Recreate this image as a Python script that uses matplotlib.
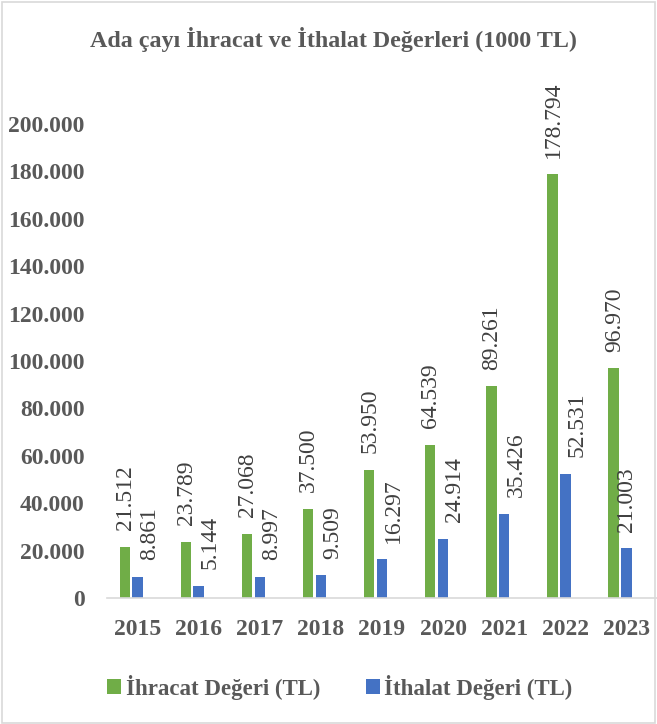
import numpy as np
import matplotlib.pyplot as plt
from matplotlib.patches import Rectangle

years = ["2015", "2016", "2017", "2018", "2019", "2020", "2021", "2022", "2023"]
ihracat = [21512, 23789, 27068, 37500, 53950, 64539, 89261, 178794, 96970]
ithalat = [8861, 5144, 8997, 9509, 16297, 24914, 35426, 52531, 21003]
yticks = [0, 20000, 40000, 60000, 80000, 100000, 120000, 140000, 160000, 180000, 200000]

GREEN = "#70AD47"
BLUE = "#4472C4"
TXT = "#595959"
LBL = "#404040"
SERIF = "Liberation Serif"


def fmt(v):
    # Turkish thousands separator
    return f"{v:,}".replace(",", ".")


fig = plt.figure(figsize=(6.57, 7.24), dpi=100)
ax = fig.add_axes([107 / 657, 1 - 598 / 724, 550 / 657, (598 - 124) / 724])

x = np.arange(len(years))
w = 0.17
b1 = ax.bar(x - 0.21, ihracat, w, color=GREEN, label="İhracat Değeri (TL)")
b2 = ax.bar(x, ithalat, w, color=BLUE, label="İthalat Değeri (TL)")

# data labels, rotated like the Excel original
for i, v in enumerate(ihracat):
    ax.annotate(fmt(v), (x[i] - 0.21, v), xytext=(0.5, 12), textcoords="offset points",
                rotation=90, ha="center", va="bottom", fontsize=17,
                family=SERIF, color=LBL, annotation_clip=False)
for i, v in enumerate(ithalat):
    dx = 0 if i == len(ithalat) - 1 else 8.5
    ax.annotate(fmt(v), (x[i], v), xytext=(dx, 12), textcoords="offset points",
                rotation=90, ha="center", va="bottom", fontsize=17,
                family=SERIF, color=LBL, annotation_clip=False)

ax.set_xlim(-0.5, len(years) - 0.5)
ax.set_ylim(0, 200000)
ax.set_yticks(yticks)
ax.set_yticklabels([fmt(t) for t in yticks])
ax.set_xticks(x)
ax.set_xticklabels(years)
for lab in ax.get_xticklabels() + ax.get_yticklabels():
    lab.set_fontfamily(SERIF)
    lab.set_fontweight("bold")
    lab.set_fontsize(17)
    lab.set_color(TXT)
ax.tick_params(axis="y", length=0, pad=16)
ax.tick_params(axis="x", length=0, pad=15)

for s in ["top", "right", "left"]:
    ax.spines[s].set_visible(False)
ax.spines["bottom"].set_color("#D9D9D9")
ax.spines["bottom"].set_linewidth(1.2)

fig.text(333 / 657, 1 - 40 / 724, "Ada çayı İhracat ve İthalat Değerleri (1000 TL)",
         ha="center", va="center", fontsize=17.3, fontweight="bold",
         family=SERIF, color=TXT)

leg = fig.legend(handles=[b1, b2], loc="center", bbox_to_anchor=(340 / 657, 1 - 687 / 724),
                 ncol=2, frameon=False, handlelength=0.6, handleheight=0.6,
                 handletextpad=0.2, columnspacing=2.0,
                 prop={"family": SERIF, "weight": "bold", "size": 16.5})
for t in leg.get_texts():
    t.set_color(TXT)

# chart border
fig.patches.append(Rectangle((0.003, 0.002), 0.994, 0.995, transform=fig.transFigure,
                             fill=False, edgecolor="#D9D9D9", linewidth=1.2))

fig.savefig("out.png", dpi=100)
